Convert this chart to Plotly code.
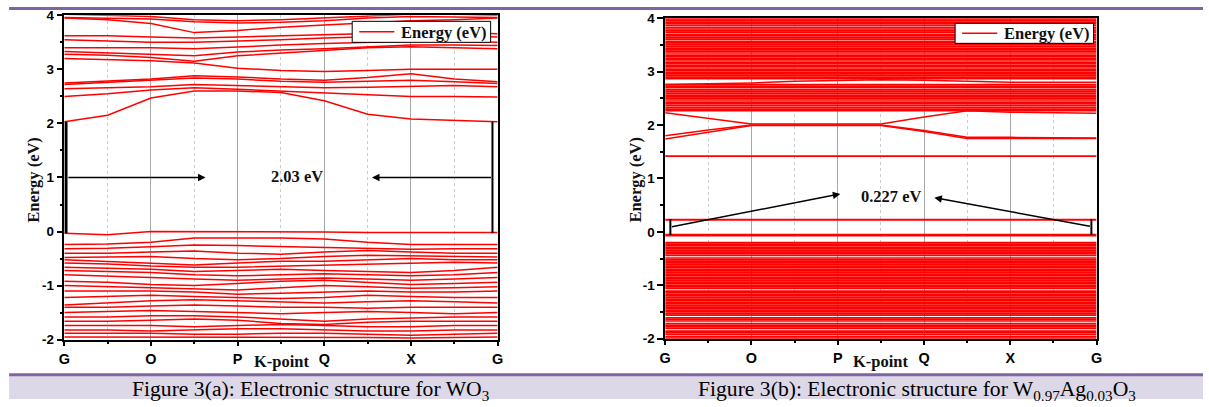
import plotly.graph_objects as go

# ---------------- data ----------------
k_pos = [0, 0.5, 1, 1.5, 2, 2.5, 3, 3.5, 4, 4.5, 5]
k_labels = ["G", "O", "P", "Q", "X", "G"]
k_major = [0, 1, 2, 3, 4, 5]
k_minor = [0.5, 1.5, 2.5, 3.5, 4.5]
y_ticks = [-2, -1, 0, 1, 2, 3, 4]
y_ticklabels = ["-2", "-1", "0", "1", "2", "3", "4"]
y_minor = [-1.5, -0.5, 0.5, 1.5, 2.5, 3.5]

# WO3 conduction bands (values at k_pos)
wo3_cb = [
    [2.03, 2.15, 2.47, 2.60, 2.60, 2.57, 2.42, 2.17, 2.08, 2.05, 2.03],
    [2.50, 2.55, 2.62, 2.66, 2.63, 2.60, 2.57, 2.53, 2.50, 2.50, 2.49],
    [2.64, 2.66, 2.68, 2.72, 2.70, 2.68, 2.66, 2.67, 2.68, 2.70, 2.68],
    [2.72, 2.76, 2.80, 2.84, 2.82, 2.78, 2.76, 2.78, 2.80, 2.77, 2.74],
    [2.75, 2.78, 2.82, 2.88, 2.86, 2.82, 2.80, 2.85, 2.92, 2.82, 2.77],
    [3.20, 3.18, 3.16, 3.12, 3.02, 2.98, 2.96, 2.98, 3.00, 3.00, 3.00],
    [3.28, 3.26, 3.22, 3.15, 3.25, 3.30, 3.35, 3.40, 3.42, 3.40, 3.38],
    [3.33, 3.30, 3.28, 3.25, 3.32, 3.36, 3.38, 3.42, 3.45, 3.45, 3.44],
    [3.40, 3.40, 3.40, 3.38, 3.42, 3.45, 3.48, 3.50, 3.52, 3.52, 3.50],
    [3.55, 3.52, 3.50, 3.50, 3.52, 3.55, 3.58, 3.60, 3.62, 3.62, 3.60],
    [3.62, 3.62, 3.60, 3.58, 3.60, 3.62, 3.63, 3.65, 3.68, 3.68, 3.66],
    [3.95, 3.92, 3.85, 3.68, 3.72, 3.78, 3.82, 3.86, 3.90, 3.92, 3.95],
    [3.96, 3.95, 3.93, 3.88, 3.86, 3.87, 3.90, 3.95, 3.98, 3.97, 3.96],
    [4.02, 4.00, 3.98, 3.92, 3.90, 3.92, 3.95, 3.98, 4.02, 4.02, 4.00],
]
# WO3 valence bands
wo3_vb = [
    [-0.03, -0.06, 0.00, 0.00, 0.00, 0.00, -0.01, -0.02, -0.02, -0.02, -0.02],
    [-0.24, -0.23, -0.20, -0.12, -0.12, -0.12, -0.14, -0.20, -0.24, -0.24, -0.24],
    [-0.32, -0.31, -0.28, -0.25, -0.26, -0.28, -0.30, -0.32, -0.33, -0.32, -0.32],
    [-0.40, -0.40, -0.38, -0.36, -0.40, -0.42, -0.38, -0.35, -0.38, -0.40, -0.40],
    [-0.48, -0.47, -0.46, -0.50, -0.52, -0.50, -0.46, -0.44, -0.45, -0.46, -0.47],
    [-0.52, -0.55, -0.58, -0.62, -0.58, -0.55, -0.55, -0.52, -0.50, -0.52, -0.52],
    [-0.58, -0.60, -0.64, -0.66, -0.66, -0.64, -0.62, -0.60, -0.58, -0.57, -0.58],
    [-0.66, -0.68, -0.70, -0.74, -0.72, -0.70, -0.72, -0.74, -0.76, -0.72, -0.66],
    [-0.72, -0.74, -0.76, -0.80, -0.82, -0.80, -0.78, -0.80, -0.82, -0.80, -0.76],
    [-0.80, -0.82, -0.85, -0.88, -0.90, -0.88, -0.86, -0.88, -0.90, -0.88, -0.85],
    [-0.92, -0.94, -0.98, -1.00, -0.96, -0.92, -0.90, -0.94, -0.98, -0.96, -0.94],
    [-1.00, -1.02, -1.03, -1.06, -1.08, -1.04, -1.00, -1.02, -1.05, -1.04, -1.02],
    [-1.10, -1.10, -1.10, -1.12, -1.16, -1.14, -1.12, -1.10, -1.12, -1.12, -1.10],
    [-1.22, -1.20, -1.18, -1.20, -1.22, -1.24, -1.22, -1.18, -1.20, -1.22, -1.22],
    [-1.36, -1.32, -1.28, -1.26, -1.28, -1.30, -1.32, -1.30, -1.28, -1.30, -1.32],
    [-1.40, -1.40, -1.38, -1.36, -1.38, -1.40, -1.40, -1.42, -1.40, -1.40, -1.40],
    [-1.50, -1.48, -1.46, -1.48, -1.50, -1.52, -1.50, -1.48, -1.50, -1.52, -1.50],
    [-1.58, -1.58, -1.56, -1.56, -1.58, -1.62, -1.66, -1.62, -1.60, -1.58, -1.58],
    [-1.66, -1.66, -1.64, -1.62, -1.64, -1.70, -1.72, -1.68, -1.66, -1.66, -1.66],
    [-1.74, -1.74, -1.74, -1.76, -1.74, -1.72, -1.74, -1.76, -1.76, -1.74, -1.74],
    [-1.82, -1.82, -1.84, -1.82, -1.80, -1.80, -1.82, -1.84, -1.84, -1.82, -1.82],
    [-1.88, -1.88, -1.88, -1.90, -1.90, -1.88, -1.88, -1.90, -1.92, -1.90, -1.88],
    [-1.95, -1.95, -1.96, -1.96, -1.96, -1.95, -1.95, -1.96, -1.97, -1.96, -1.95],
]

# W0.97Ag0.03O3 dispersive bands near the gap (values at k_pos)
ag_bands = [
    [2.23, 2.12, 2.02, 2.02, 2.02, 2.02, 2.15, 2.27, 2.24, 2.23, 2.22],
    [1.80, 1.91, 2.00, 2.00, 2.00, 2.00, 1.90, 1.77, 1.77, 1.76, 1.76],
    [1.74, 1.87, 1.99, 1.99, 1.99, 1.99, 1.88, 1.75, 1.75, 1.75, 1.75],
    [2.76, 2.77, 2.79, 2.82, 2.84, 2.85, 2.84, 2.82, 2.80, 2.80, 2.80],
]
# W0.97Ag0.03O3 flat levels
ag_flat_mid = [1.42, 0.227, -0.05, -0.07]
ag_flat_upper = [2.27, 2.30, 2.33, 2.37, 2.40, 2.43, 2.47, 2.50, 2.53, 2.56, 2.60, 2.63,
                 2.66, 2.70, 2.73, 2.76, 2.87, 2.90, 2.93, 2.96, 2.99, 3.02, 3.05, 3.09,
                 3.12, 3.15, 3.18, 3.22, 3.25, 3.28, 3.31, 3.35, 3.38, 3.41, 3.44, 3.48,
                 3.51, 3.54, 3.57, 3.61, 3.64, 3.67, 3.70, 3.74, 3.77, 3.80, 3.83, 3.87,
                 3.90, 3.93, 3.96, 3.99]
ag_flat_lower = [-0.20, -0.23, -0.26, -0.29, -0.32, -0.35, -0.38, -0.41, -0.44, -0.49,
                 -0.52, -0.55, -0.58, -0.61, -0.64, -0.67, -0.70, -0.73, -0.76, -0.79,
                 -0.82, -0.85, -0.88, -0.91, -0.94, -0.97, -1.00, -1.03, -1.06, -1.11,
                 -1.14, -1.17, -1.20, -1.23, -1.26, -1.29, -1.32, -1.35, -1.38, -1.41,
                 -1.44, -1.47, -1.50, -1.53, -1.56, -1.61, -1.64, -1.67, -1.72, -1.75,
                 -1.78, -1.81, -1.86, -1.89, -1.92, -1.96, -1.99]

gap_a = 2.03
gap_b = 0.227
vbm_a = -0.03
vbm_b = -0.06

# ---------------- figure ----------------
# The page is captured together with the browser's 8px body margin and the
# capture is then fitted to 1209x407, so target pixel positions are mapped
# into figure coordinates accordingly.
W, H, BODY = 1209, 407, 8
SX = (W + 2 * BODY) / W
SY = (H + 2 * BODY) / H
FS = 1.03  # font compensation
RED = "#ff0000"
SERIF = "Liberation Serif"
SANS = "Liberation Sans"


def px_x(p):
    return (p * SX - BODY) / W


def px_y(p):
    return 1 - (p * SY - BODY) / H


def bands_xy(bands):
    xs, ys = [], []
    for b in bands:
        xs += k_pos + [None]
        ys += b + [None]
    return xs, ys


def flat_xy(levels):
    xs, ys = [], []
    for e in levels:
        xs += [k_pos[0], k_pos[-1], None]
        ys += [e, e, None]
    return xs, ys


fig = go.Figure()

xa, ya = bands_xy(wo3_cb + wo3_vb)
fig.add_trace(go.Scatter(x=xa, y=ya, mode="lines", line=dict(color=RED, width=1.5),
                         name="Energy (eV)", showlegend=False,
                         xaxis="x", yaxis="y", hoverinfo="skip"))

xb, yb = flat_xy(ag_flat_upper + ag_flat_lower)
fig.add_trace(go.Scatter(x=xb, y=yb, mode="lines", line=dict(color=RED, width=1.7),
                         name="Energy (eV)", showlegend=False,
                         xaxis="x2", yaxis="y2", hoverinfo="skip"))
xc, yc = flat_xy(ag_flat_mid)
fig.add_trace(go.Scatter(x=xc, y=yc, mode="lines", line=dict(color=RED, width=1.8),
                         showlegend=False, xaxis="x2", yaxis="y2", hoverinfo="skip"))
xd, yd = bands_xy(ag_bands)
fig.add_trace(go.Scatter(x=xd, y=yd, mode="lines", line=dict(color=RED, width=1.5),
                         showlegend=False, xaxis="x2", yaxis="y2", hoverinfo="skip"))


def xaxis(domain, anchor):
    return dict(domain=domain, anchor=anchor, range=[0, 5], tickmode="array",
                tickvals=k_major, ticktext=k_labels, ticks="outside", ticklen=5,
                tickwidth=1.5, tickcolor="black", showline=True, linecolor="black",
                linewidth=1.5, mirror=True, showgrid=True, gridcolor="#a8a8a8",
                gridwidth=1, zeroline=False,
                minor=dict(tickvals=k_minor, ticks="outside", ticklen=3, tickwidth=1.5,
                           tickcolor="black", showgrid=True, gridcolor="#cccccc",
                           griddash="dot", gridwidth=1),
                tickfont=dict(family=SANS, size=14 * FS, color="black", weight="bold"))


def yaxis(domain, anchor):
    return dict(domain=domain, anchor=anchor, range=[-2, 4], tickmode="array",
                tickvals=y_ticks, ticktext=y_ticklabels, ticks="outside", ticklen=6,
                tickwidth=1.5, tickcolor="black", showline=True, linecolor="black",
                linewidth=1.5, mirror=True, showgrid=False, zeroline=False,
                minor=dict(tickvals=y_minor, ticks="outside", ticklen=3, tickwidth=1.5,
                           tickcolor="black", showgrid=False),
                tickfont=dict(family=SANS, size=13 * FS, color="black", weight="bold"))


fig.update_layout(
    width=W, height=H, autosize=False,
    margin=dict(l=0, r=0, t=0, b=0),
    paper_bgcolor="white", plot_bgcolor="white",
    showlegend=False,
    xaxis=xaxis([px_x(66), px_x(498)], "y"),
    yaxis=yaxis([px_y(340), px_y(16)], "x"),
    xaxis2=xaxis([px_x(665), px_x(1095)], "y2"),
    yaxis2=yaxis([px_y(339), px_y(19)], "x2"),
)

shapes = [
    # header rule
    dict(type="line", xref="paper", yref="paper", x0=px_x(11), x1=1,
         y0=1 - 1.5 / H, y1=1 - 1.5 / H, line=dict(color="#8064a2", width=3)),
    # caption band
    dict(type="rect", xref="paper", yref="paper", x0=px_x(11), x1=1,
         y0=0, y1=px_y(376), fillcolor="#ddd8e8", line=dict(width=0),
         layer="below"),
    dict(type="line", xref="paper", yref="paper", x0=px_x(11), x1=1,
         y0=px_y(375), y1=px_y(375), line=dict(color="#8064a2", width=3)),
    # gap markers (a)
    dict(type="line", xref="x", yref="y", x0=0.02, x1=0.02, y0=vbm_a, y1=gap_a,
         line=dict(color="black", width=3)),
    dict(type="line", xref="x", yref="y", x0=4.94, x1=4.94, y0=vbm_a, y1=gap_a,
         line=dict(color="black", width=2)),
    # gap markers (b)
    dict(type="line", xref="x2", yref="y2", x0=0.06, x1=0.06, y0=vbm_b, y1=gap_b + 0.01,
         line=dict(color="black", width=2)),
    dict(type="line", xref="x2", yref="y2", x0=4.94, x1=4.94, y0=vbm_b, y1=gap_b + 0.01,
         line=dict(color="black", width=2)),
    # legend boxes
    dict(type="rect", xref="paper", yref="paper", x0=px_x(353), x1=px_x(491),
         y0=px_y(43), y1=px_y(22), fillcolor="white", line=dict(color="black", width=1)),
    dict(type="line", xref="paper", yref="paper", x0=px_x(360), x1=px_x(395),
         y0=px_y(32.5), y1=px_y(32.5), line=dict(color=RED, width=1.5)),
    dict(type="rect", xref="paper", yref="paper", x0=px_x(954), x1=px_x(1092),
         y0=px_y(44), y1=px_y(24), fillcolor="white", line=dict(color="black", width=1)),
    dict(type="line", xref="paper", yref="paper", x0=px_x(961), x1=px_x(996),
         y0=px_y(34), y1=px_y(34), line=dict(color=RED, width=1.5)),
]

ann_font = dict(family=SERIF, size=16 * FS, color="#111111", weight="bold")
cap_font = dict(family=SERIF, size=21 * FS, color="black")
arrow = dict(text="", showarrow=True, arrowhead=2, arrowsize=1, arrowwidth=1.5,
             arrowcolor="black", standoff=0, startstandoff=0)
ctr = dict(xanchor="center", yanchor="middle", showarrow=False)

annotations = [
    dict(text=f"{gap_a:.2f} eV", x=2.69, y=1.02, xref="x", yref="y", font=ann_font, **ctr),
    dict(x=1.63, y=1.0, ax=0.03, ay=1.0, xref="x", yref="y", axref="x", ayref="y", **arrow),
    dict(x=3.55, y=1.0, ax=4.94, ay=1.0, xref="x", yref="y", axref="x", ayref="y", **arrow),
    dict(text=f"{gap_b:.3f} eV", x=2.62, y=0.66, xref="x2", yref="y2", font=ann_font, **ctr),
    dict(x=2.03, y=0.71, ax=0.06, ay=0.09, xref="x2", yref="y2", axref="x2", ayref="y2", **arrow),
    dict(x=3.12, y=0.64, ax=4.94, ay=0.10, xref="x2", yref="y2", axref="x2", ayref="y2", **arrow),
    # legend labels
    dict(text="Energy (eV)", x=px_x(400), y=px_y(33), xref="paper", yref="paper",
         xanchor="left", yanchor="middle", showarrow=False, font=ann_font),
    dict(text="Energy (eV)", x=px_x(1001), y=px_y(34.5), xref="paper", yref="paper",
         xanchor="left", yanchor="middle", showarrow=False, font=ann_font),
    # axis titles
    dict(text="Energy (eV)", x=px_x(35), y=px_y(180), xref="paper", yref="paper",
         textangle=-90, font=ann_font, **ctr),
    dict(text="Energy (eV)", x=px_x(635), y=px_y(180), xref="paper", yref="paper",
         textangle=-90, font=ann_font, **ctr),
    dict(text="K-point", x=px_x(283), y=px_y(362), xref="paper", yref="paper",
         font=ann_font, **ctr),
    dict(text="K-point", x=px_x(880), y=px_y(362), xref="paper", yref="paper",
         font=ann_font, **ctr),
    # captions
    dict(text="Figure 3(a): Electronic structure for WO<sub>3</sub>",
         x=px_x(311), y=px_y(391), xref="paper", yref="paper", font=cap_font, **ctr),
    dict(text="Figure 3(b): Electronic structure for W<sub>0.97</sub>Ag<sub>0.03</sub>O<sub>3</sub>",
         x=px_x(916), y=px_y(391), xref="paper", yref="paper", font=cap_font, **ctr),
]

fig.update_layout(shapes=shapes, annotations=annotations)
fig.write_html("out.html")
